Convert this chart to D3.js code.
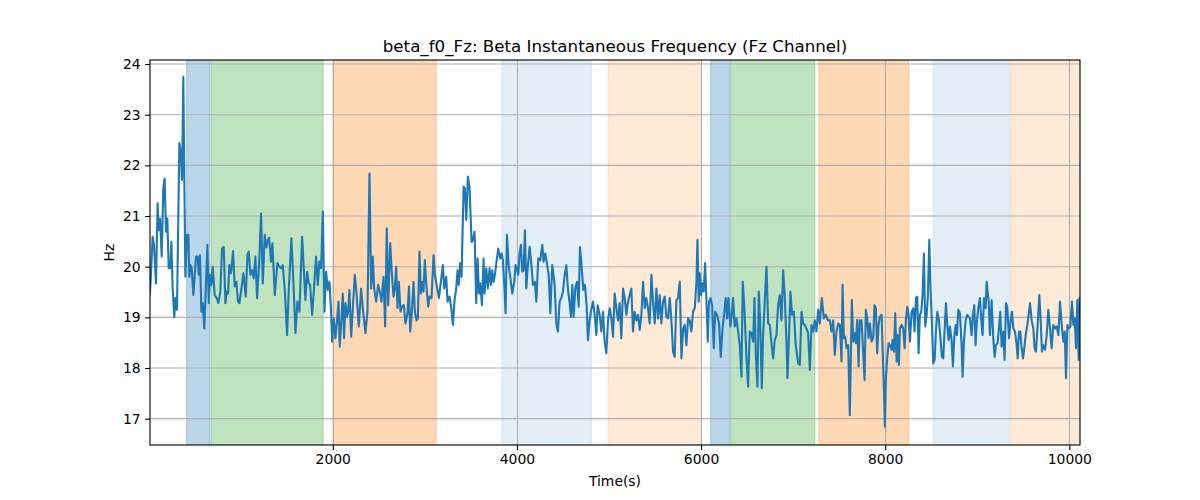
<!DOCTYPE html>
<html>
<head>
<meta charset="utf-8">
<script src="https://cdn.jsdelivr.net/npm/d3@7"></script>
<style>
  body { margin: 0; background: #fff; }
  svg text { font-family: "DejaVu Sans", sans-serif; fill: #000; }
</style>
</head>
<body>
<div id="chart"></div>
<script>
// values
var times = [15,44,58,80,98,109,124,142,160,174,189,203,218,236,247,261,279,290,308,334,348,363,377,388,399,417,432,442,453,468,486,515,533,544,558,573,587,605,638,653,667,682,696,718,740,758,779,797,816,834,848,863,877,895,917,935,953,971,986,1008,1029,1055,1073,1087,1105,1124,1142,1160,1178,1203,1221,1240,1261,1279,1290,1308,1330,1345,1370,1399,1421,1439,1457,1479,1504,1522,1551,1569,1595,1616,1638,1667,1685,1703,1721,1739,1754,1776,1794,1819,1837,1855,1874,1892,1910,1928,1946,1964,1982,1993,2011,2029,2047,2062,2076,2095,2109,2123,2138,2153,2167,2181,2200,2218,2239,2254,2283,2308,2326,2355,2377,2399,
  2417,2435,2450,2471,2493,2515,2529,2551,2569,2587,2602,2624,2638,2660,2674,2689,2703,2718,2736,2750,2772,2790,2812,2827,2841,2859,2877,2892,2910,2924,2942,2957,2971,2986,3000,3019,3037,3051,3073,3095,3109,3131,3153,3174,3196,3211,3232,3247,3269,3287,3305,3323,3341,3355,3370,3384,3399,3421,3435,3450,3468,3486,3508,3522,3540,3558,3573,3587,3602,3620,3638,3649,3667,3685,3703,3718,3732,3747,3761,3779,3797,3819,3834,3848,3863,3877,3892,3910,3928,3950,3971,3986,4000,4015,4029,4044,4058,4073,4087,4102,4120,4138,4156,4174,4196,4211,4232,4254,4276,4290,4308,4326,4345,4363,4384,4410,4428,4446,4464,4482,4500,4519,4537,4555,4573,4587,4602,4616,4634,4653,4671,4685,4703,4721,4739,4758,4772,4790,4808,4826,4845,4863,4877,
  4899,4917,4935,4953,4971,4990,5008,5026,5044,5062,5080,5098,5116,5134,5153,5171,5189,5207,5225,5243,5261,5279,5298,5316,5334,5352,5370,5388,5406,5424,5442,5461,5479,5497,5515,5533,5551,5569,5587,5605,5624,5642,5660,5678,5696,5714,5732,5750,5769,5787,5805,5823,5841,5859,5877,5895,5913,5932,5950,5961,5975,5986,6000,6015,6029,6044,6058,6073,6087,6102,6120,6138,6153,6174,6196,6214,6232,6250,6268,6283,6297,6319,6334,6348,6366,6384,6403,6421,6439,6453,6471,6493,6511,6529,6547,6566,6580,6595,6613,6627,6642,6660,6674,6692,6711,6729,6747,6765,6783,6801,6819,6837,6855,6874,6892,6910,6928,6939,6957,6971,6989,7008,7029,7055,7073,7091,7109,7127,7145,7163,7182,7200,7218,7236,7254,7272,7290,7312,7334,7355,7377,
  7399,7417,7435,7453,7471,7490,7508,7526,7537,7551,7566,7580,7598,7616,7638,7653,7667,7682,7696,7711,7725,7743,7761,7776,7790,7805,7819,7834,7852,7870,7884,7899,7913,7928,7942,7961,7971,7986,7997,8008,8022,8037,8051,8069,8080,8095,8109,8124,8134,8149,8160,8178,8196,8211,8225,8240,8254,8269,8287,8305,8319,8334,8348,8363,8377,8392,8406,8421,8435,8450,8464,8479,8493,8508,8522,8537,8551,8566,8584,8602,8616,8631,8645,8660,8674,8689,8703,8721,8736,8750,8765,8779,8794,8812,8830,8841,8855,8874,8892,8906,8921,8939,8953,8968,8982,8993,9011,9029,9044,9058,9073,9091,9102,9124,9138,9156,9174,9189,9203,9221,9239,9250,9265,9283,9297,9312,9326,9345,9363,9377,9392,9410,9428,9439,9453,9468,9482,9497,9511,9526,9544,9558,9573,9591,9609,9623,9638,9656,9674,9689,9703,9718,9736,9754,9772,9790,9808,9826,9845,9863,9881,9899,9917,9935,9950,9964,9979,9993,10011,10029,10044,10058,10073,10087,10102,10113];

var hz = [19.47,20.59,20.43,19.67,21.25,20.72,20.95,20.20,21.55,21.74,20.69,20.95,19.97,19.97,20.49,19.57,19.01,19.38,19.15,22.44,22.27,21.71,23.75,21.71,19.80,20.63,20.63,19.80,20.03,19.97,19.44,20.20,20.20,19.84,20.23,19.11,19.28,18.78,20.43,19.28,19.84,19.64,20.00,19.44,19.38,19.28,19.51,20.36,20.39,19.28,19.51,19.47,20.03,19.87,20.31,19.61,19.70,19.31,19.28,19.57,19.87,19.41,20.23,20.30,19.84,19.93,19.77,20.20,19.38,20.16,21.05,19.67,20.63,20.38,20.49,20.57,20.10,20.46,19.44,20.07,20.00,19.97,20.03,19.54,18.65,19.54,20.56,19.84,18.69,19.31,19.11,20.59,19.97,19.34,19.90,19.67,19.64,19.05,19.51,20.20,19.64,20.10,19.97,21.09,19.11,19.90,19.54,19.70,19.11,18.52,18.98,18.59,18.94,19.31,18.42,18.98,19.47,18.59,19.28,19.01,19.11,19.54,18.62,19.18,19.84,19.57,18.82,19.57,19.18,18.69,19.11,21.84,
  19.57,20.20,19.57,19.31,19.64,19.47,19.31,19.80,18.82,20.76,19.24,20.46,19.97,19.41,19.57,20.00,19.18,19.70,19.11,19.21,19.24,18.88,19.08,19.61,18.72,19.11,19.70,19.11,18.94,18.98,20.30,19.47,19.70,19.51,20.13,19.57,19.21,19.41,19.38,20.23,19.84,19.61,19.38,19.70,20.03,19.57,19.80,19.31,19.41,19.18,18.85,19.34,19.57,19.93,19.64,20.07,19.80,21.58,21.55,20.92,21.78,21.55,20.49,20.53,20.69,19.28,20.16,19.47,19.67,19.24,20.16,19.47,19.97,19.57,19.97,19.64,19.93,19.70,19.84,20.10,20.36,20.16,20.26,20.13,19.64,19.08,20.63,20.03,19.80,19.47,19.70,20.03,19.97,19.84,20.26,20.43,19.90,19.93,20.72,19.57,20.03,20.39,20.07,19.64,19.70,19.31,20.16,20.13,20.43,20.10,20.26,20.07,19.84,19.08,20.03,19.64,18.88,18.72,19.31,19.38,19.51,19.84,20.03,19.54,19.28,19.01,19.64,19.01,19.57,19.70,19.21,20.39,20.00,19.54,19.64,19.21,18.55,18.94,19.15,19.31,19.05,18.65,19.24,
  19.05,18.72,19.11,18.52,18.29,18.94,19.18,18.98,18.62,19.47,19.18,18.94,19.28,18.59,19.57,19.38,19.05,19.31,19.44,19.57,18.72,19.11,18.94,19.05,18.75,19.05,19.70,19.18,19.38,19.18,18.88,19.84,19.28,18.88,19.57,18.98,19.44,18.88,19.31,19.41,19.01,18.98,19.38,18.94,18.32,18.22,19.34,19.38,19.70,18.19,18.78,18.85,18.45,18.98,18.94,18.72,19.11,19.18,19.70,20.53,19.31,19.87,19.44,19.67,19.51,20.07,19.38,18.52,19.31,19.38,19.24,18.39,19.11,19.05,18.88,18.22,18.75,19.05,19.38,18.98,19.38,18.82,19.05,19.38,18.82,18.98,18.72,18.45,17.83,19.70,19.18,18.22,17.63,18.72,18.69,18.52,19.38,18.26,17.63,19.51,18.94,17.60,18.65,19.31,20.00,18.88,18.85,18.49,18.19,18.55,18.65,19.24,19.44,18.94,19.93,19.38,18.52,17.80,18.72,19.51,19.05,19.11,18.45,18.09,18.06,19.11,18.88,18.85,18.78,18.69,17.96,18.85,18.72,18.94,18.72,19.15,18.88,19.38,18.98,19.05,18.94,
  18.94,18.72,18.94,18.26,18.72,18.88,18.85,18.13,19.64,18.59,18.62,18.39,18.45,17.07,19.34,18.52,18.69,18.49,18.95,18.03,18.94,18.94,18.32,17.76,19.15,18.98,18.59,18.88,18.52,18.59,19.24,19.18,18.29,18.85,19.01,19.05,18.45,17.60,16.84,17.80,18.19,18.49,18.45,18.36,18.55,18.32,19.08,18.13,18.65,18.06,18.78,18.85,18.78,18.39,18.94,19.21,19.05,18.52,19.11,19.18,18.72,19.38,19.41,18.29,19.05,19.11,19.44,20.26,18.82,19.05,19.41,20.53,19.57,18.85,18.09,18.16,18.72,19.11,18.94,18.55,18.22,18.19,18.72,19.28,18.85,18.55,18.82,18.55,18.03,18.59,18.85,18.65,19.15,19.08,18.45,17.83,18.52,18.94,19.05,19.01,18.98,18.65,19.05,19.24,18.45,18.85,19.18,19.38,18.94,18.65,19.38,19.18,19.70,19.31,18.65,19.34,18.59,18.22,18.45,18.49,18.85,19.11,18.42,18.72,18.16,19.28,19.21,18.59,18.94,19.11,18.78,18.72,18.45,18.19,18.72,18.72,18.39,18.19,18.39,18.65,18.85,19.05,19.28,18.94,18.78,18.39,18.32,18.85,19.44,18.94,18.32,18.45,18.36,18.65,19.15,18.78,18.39,18.85,18.78,18.82,18.65,19.31,18.85,18.52,18.72,17.80,18.85,18.78,18.82,19.31,18.85,18.98,18.39,19.34,18.16,19.38];

// shaded periods
var spanStart = [413, 682, 2000, 3837, 4989, 6105, 6323, 7279, 8522, 9366];
var spanEnd   = [667, 1896, 3124, 4809, 6004, 6312, 7236, 8258, 9355, 10116];
var spanKind  = ['a', 'b', 'c', 'd', 'e', 'a', 'b', 'c', 'd', 'e'];

var xTicks = [2000, 4000, 6000, 8000, 10000];
var yTicks = [17, 18, 19, 20, 21, 22, 23, 24];

var spanFill = { a: '#1f77b4', b: '#2ca02c', c: '#ff7f0e', d: '#1f77b4', e: '#ff7f0e' };
var spanAlpha = { a: 0.3, b: 0.3, c: 0.3, d: 0.12, e: 0.16 };

var margin = { top: 60, right: 120, bottom: 55, left: 150 };
var width = 1200 - margin.left - margin.right,
    height = 500 - margin.top - margin.bottom;

var x = d3.scaleLinear().domain([15, 10116]).range([0, width]);
var y = d3.scaleLinear().domain([16.48, 24.08]).range([height, 0]);

var svg = d3.select('#chart').append('svg')
  .attr('width', 1200)
  .attr('height', 500);

var g = svg.append('g')
  .attr('transform', 'translate(' + margin.left + ',' + margin.top + ')');

g.append('clipPath').attr('id', 'clip')
  .append('rect').attr('width', width).attr('height', height);

// spans
g.append('g').attr('clip-path', 'url(#clip)')
  .selectAll('rect')
  .data(spanStart.map(function(d, i) { return { s: d, e: spanEnd[i], k: spanKind[i] }; }))
  .enter().append('rect')
  .attr('x', function(d) { return x(d.s); })
  .attr('width', function(d) { return x(d.e) - x(d.s); })
  .attr('y', 0)
  .attr('height', height)
  .attr('fill', function(d) { return spanFill[d.k]; })
  .attr('fill-opacity', function(d) { return spanAlpha[d.k]; })
  .attr('stroke', function(d) { return spanFill[d.k]; })
  .attr('stroke-opacity', function(d) { return spanAlpha[d.k]; })
  .attr('stroke-width', 1.1);

// grid
g.append('g').selectAll('line.gx')
  .data(xTicks).enter().append('line')
  .attr('x1', function(d) { return Math.round(x(d)) + 0.5; })
  .attr('x2', function(d) { return Math.round(x(d)) + 0.5; })
  .attr('y1', 0).attr('y2', height)
  .attr('stroke', '#b0b0b0').attr('stroke-width', 1.1);

g.append('g').selectAll('line.gy')
  .data(yTicks).enter().append('line')
  .attr('y1', function(d) { return y(d); })
  .attr('y2', function(d) { return y(d); })
  .attr('x1', 0).attr('x2', width)
  .attr('stroke', '#b0b0b0').attr('stroke-width', 1.1);

// the line
var line = d3.line()
  .x(function(d, i) { return x(times[i]); })
  .y(function(d) { return y(d); });

g.append('path')
  .datum(hz)
  .attr('clip-path', 'url(#clip)')
  .attr('d', line)
  .attr('fill', 'none')
  .attr('stroke', '#1f77b4')
  .attr('stroke-width', 2.1)
  .attr('stroke-linejoin', 'round')
  .attr('stroke-linecap', 'square');

// axes
var xAxis = d3.axisBottom(x).tickValues(xTicks).tickSize(4.9).tickPadding(4.5)
  .tickFormat(d3.format('d'));
var yAxis = d3.axisLeft(y).tickValues(yTicks).tickSize(4.9).tickPadding(4.5)
  .tickFormat(d3.format('d'));

var gx = g.append('g').attr('transform', 'translate(0,' + height + ')').call(xAxis);
var gy = g.append('g').call(yAxis);

[gx, gy].forEach(function(a) {
  a.select('.domain').remove();
  a.selectAll('line').attr('stroke', '#000').attr('stroke-width', 1.1);
  a.selectAll('text').attr('font-size', '13.9px').attr('fill', '#000')
    .style('font-family', '"DejaVu Sans", sans-serif');
});

g.append('rect')
  .attr('width', width).attr('height', height)
  .attr('fill', 'none').attr('stroke', '#000').attr('stroke-width', 1.1);

// labels
svg.append('text')
  .attr('x', margin.left + width / 2)
  .attr('y', 52)
  .attr('text-anchor', 'middle')
  .attr('font-size', '16.7px')
  .text('beta_f0_Fz: Beta Instantaneous Frequency (Fz Channel)');

svg.append('text')
  .attr('x', margin.left + width / 2)
  .attr('y', 486)
  .attr('text-anchor', 'middle')
  .attr('font-size', '13.9px')
  .text('Time(s)');

svg.append('text')
  .attr('transform', 'translate(114,' + (margin.top + height / 2) + ') rotate(-90)')
  .attr('text-anchor', 'middle')
  .attr('font-size', '13.9px')
  .text('Hz');
</script>
</body>
</html>
